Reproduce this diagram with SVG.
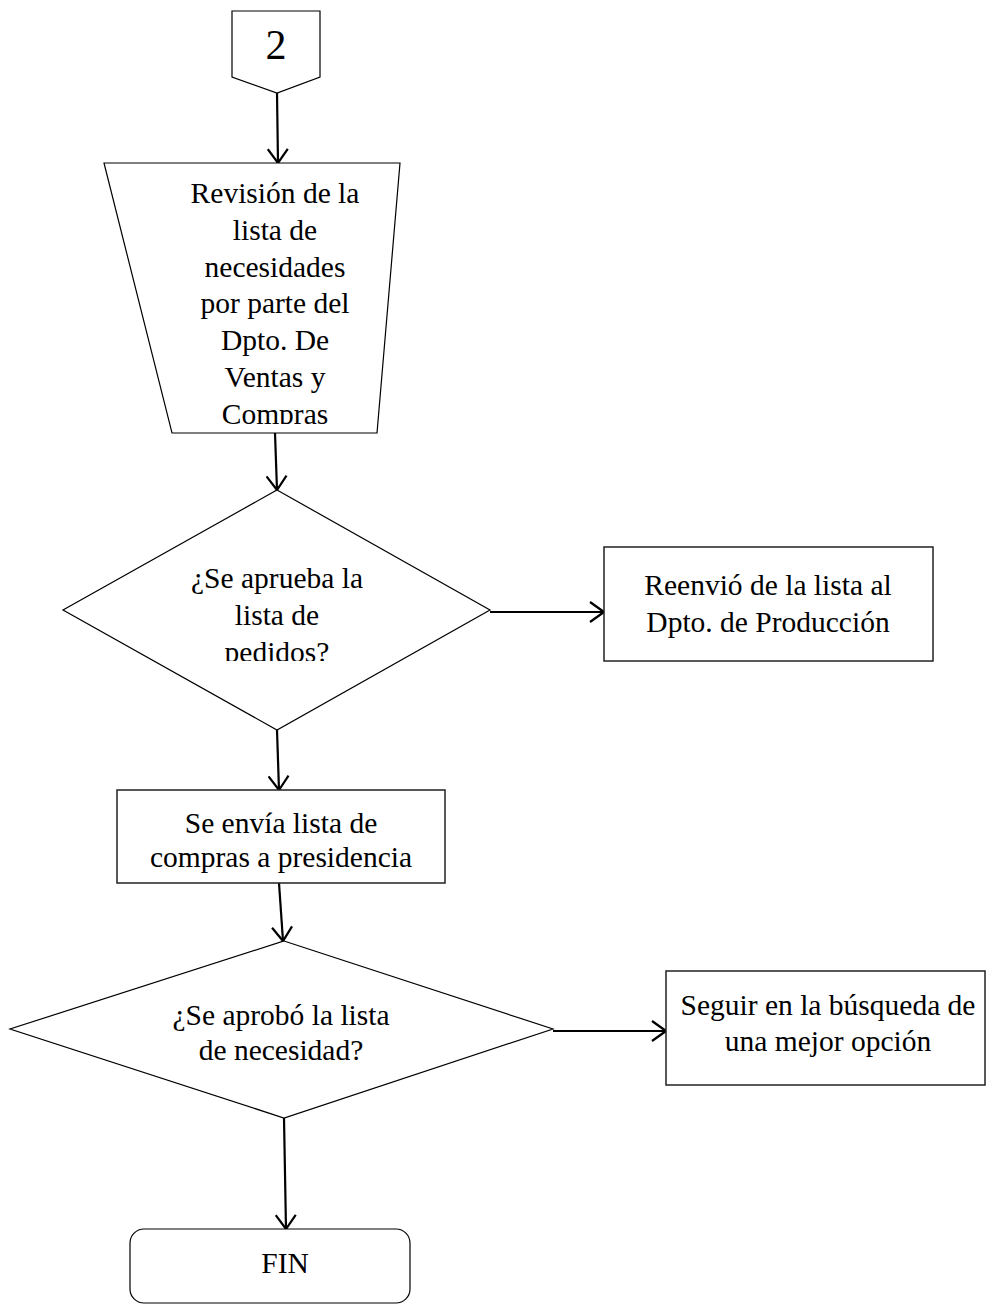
<svg xmlns="http://www.w3.org/2000/svg" width="986" height="1305" viewBox="0 0 986 1305">
<style>
.shape{fill:#fff;stroke:#000;stroke-width:1.2}
.box{fill:#fff;stroke:#222;stroke-width:1.5}
.t{font-family:"Liberation Serif","Times New Roman",serif;font-size:29.5px;fill:#000;text-anchor:middle}
.c{fill:none;stroke:#000;stroke-width:2.2}
</style>
<defs>
<marker id="arr" viewBox="0 0 16 22" refX="15" refY="11" markerWidth="16" markerHeight="22" markerUnits="userSpaceOnUse" orient="auto">
<path d="M1,1 L15,11 L1,21" fill="none" stroke="#000" stroke-width="2.2"/>
</marker>
<clipPath id="clipTrap"><rect x="100" y="160" width="300" height="264"/></clipPath>
<clipPath id="clipD1"><rect x="60" y="490" width="430" height="171"/></clipPath>
</defs>
<rect width="986" height="1305" fill="#fff"/>
<g id="connectors">
<line class="c" x1="277" y1="93" x2="278" y2="163" marker-end="url(#arr)"/>
<line class="c" x1="275" y1="433" x2="277" y2="490" marker-end="url(#arr)"/>
<line class="c" x1="490" y1="612" x2="604" y2="612" marker-end="url(#arr)"/>
<line class="c" x1="277" y1="730" x2="279" y2="790" marker-end="url(#arr)"/>
<line class="c" x1="279" y1="883" x2="283" y2="941" marker-end="url(#arr)"/>
<line class="c" x1="553" y1="1031" x2="666" y2="1031" marker-end="url(#arr)"/>
<line class="c" x1="284" y1="1118" x2="286" y2="1229" marker-end="url(#arr)"/>
</g>
<g id="node-connector2">
<polygon class="shape" points="232,11 320,11 320,77 277,93 232,77"/>
<text class="t" x="276" y="59" style="font-size:42px">2</text>
</g>
<g id="node-revision">
<polygon class="shape" points="104,163 400,163 377,433 172,433"/>
<g clip-path="url(#clipTrap)">
<text class="t" x="275" y="203">Revisión de la</text>
<text class="t" x="275" y="240">lista de</text>
<text class="t" x="275" y="277">necesidades</text>
<text class="t" x="275" y="313">por parte del</text>
<text class="t" x="275" y="350">Dpto. De</text>
<text class="t" x="275" y="387">Ventas y</text>
<text class="t" x="275" y="424">Compras</text>
</g>
</g>
<g id="node-decision1">
<polygon class="shape" points="277,490 490,610 277,730 63,610"/>
<g clip-path="url(#clipD1)">
<text class="t" x="277" y="588">¿Se aprueba la</text>
<text class="t" x="277" y="625">lista de</text>
<text class="t" x="277" y="662">pedidos?</text>
</g>
</g>
<g id="node-reenvio">
<rect class="box" x="604" y="547" width="329" height="114"/>
<text class="t" x="768" y="595">Reenvió de la lista al</text>
<text class="t" x="768" y="632">Dpto. de Producción</text>
</g>
<g id="node-envia">
<rect class="box" x="117" y="790" width="328" height="93"/>
<text class="t" x="281" y="833">Se envía lista de</text>
<text class="t" x="281" y="867">compras a presidencia</text>
</g>
<g id="node-decision2">
<polygon class="shape" points="284,941 553,1029 284,1118 10,1029"/>
<text class="t" x="281" y="1025">¿Se aprobó la lista</text>
<text class="t" x="281" y="1060">de necesidad?</text>
</g>
<g id="node-seguir">
<rect class="box" x="666" y="971" width="319" height="114"/>
<text class="t" x="828" y="1015">Seguir en la búsqueda de</text>
<text class="t" x="828" y="1051">una mejor opción</text>
</g>
<g id="node-fin">
<rect class="shape" x="130" y="1229" width="280" height="74" rx="14" ry="14"/>
<text class="t" x="285" y="1273">FIN</text>
</g>
</svg>
